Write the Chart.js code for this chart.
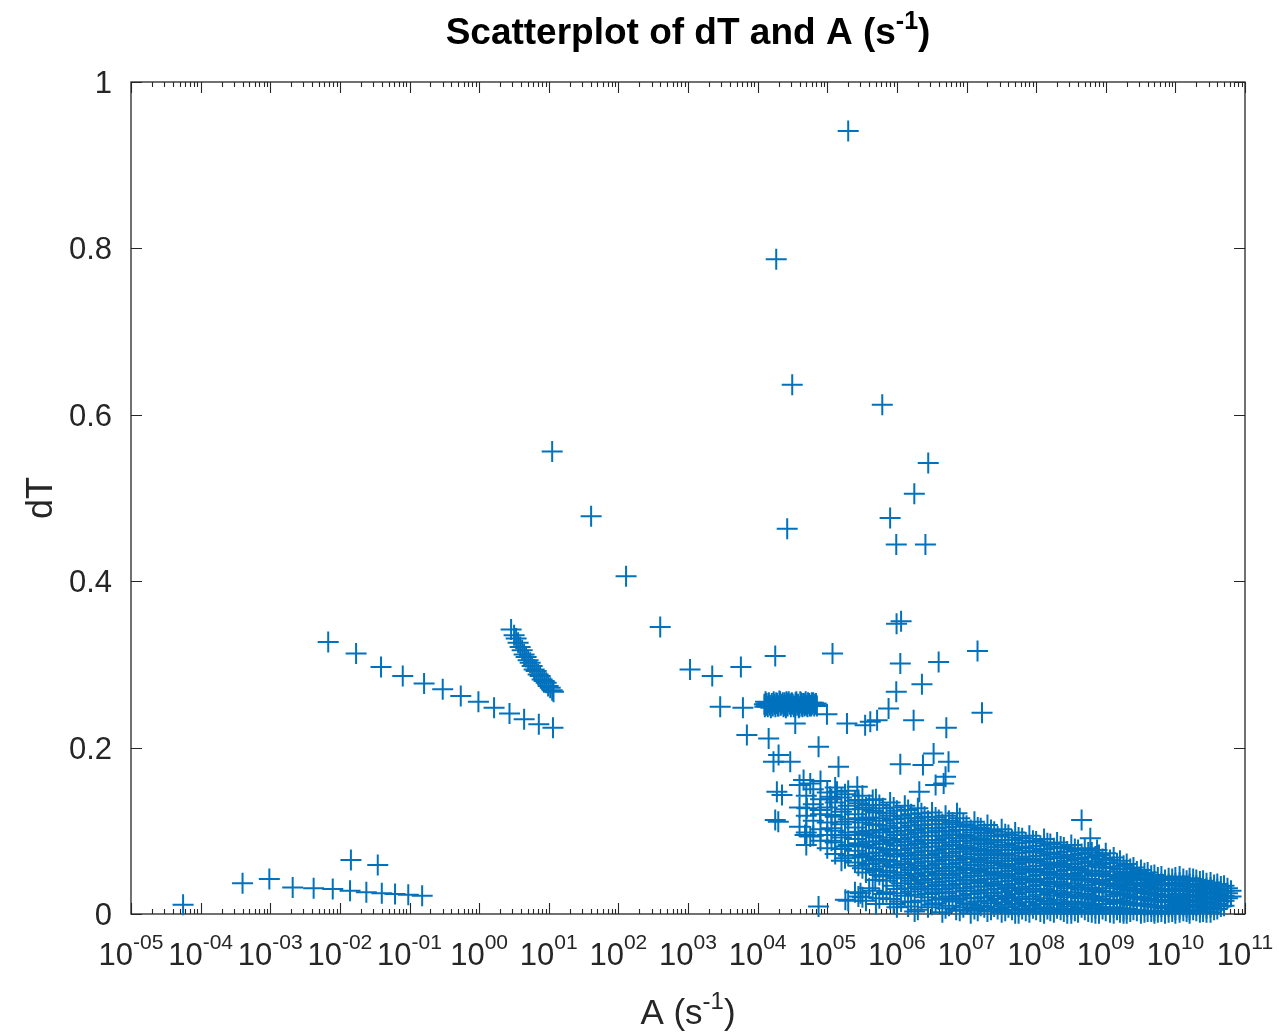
<!DOCTYPE html>
<html>
<head>
<meta charset="utf-8">
<title>Scatterplot of dT and A</title>
<script src="https://cdn.jsdelivr.net/npm/chart.js@4.4.1/dist/chart.umd.min.js"></script>
<style>
  html, body { margin: 0; padding: 0; background: #ffffff; }
  #wrap { width: 1279px; height: 1032px; position: relative; }
</style>
</head>
<body>
<div id="wrap"><canvas id="c"></canvas></div>
<script>
// ---- data: [A (s^-1), dT] ----
const lowTrail = [
  [5.6e-5, 0.011], [4.0e-4, 0.037], [9.7e-4, 0.042], [2.1e-3, 0.032], [4.2e-3, 0.031],
  [7.9e-3, 0.030], [1.4e-2, 0.028], [2.4e-2, 0.026], [4.0e-2, 0.025], [6.2e-2, 0.024],
  [9.6e-2, 0.023], [0.152, 0.022], [1.44e-2, 0.065], [3.5e-2, 0.059]
];

const upperTrail = [
  [6.8e-3, 0.327], [1.71e-2, 0.313], [3.9e-2, 0.297], [8.0e-2, 0.286], [0.162, 0.277],
  [0.30, 0.270], [0.545, 0.262], [0.977, 0.255], [1.64, 0.248], [2.73, 0.241],
  [4.43, 0.234], [7.2, 0.228], [11.5, 0.224]
];

const steepRun = [
  [2.88, 0.342], [3.18, 0.335], [3.40, 0.331], [3.63, 0.326], [3.88, 0.321], [4.15, 0.317],
  [4.43, 0.312], [4.73, 0.309], [5.06, 0.305], [5.41, 0.302], [5.77, 0.298], [6.17, 0.294],
  [6.59, 0.292], [7.04, 0.288], [7.52, 0.286], [8.03, 0.282], [8.59, 0.280], [9.18, 0.278],
  [9.80, 0.274], [10.5, 0.272], [11.2, 0.269], [11.7, 0.267]
];

const midArc = [
  [11.2, 0.556], [40.6, 0.478], [129, 0.406], [399, 0.345], [1070, 0.294], [2230, 0.286]
];

const highOutliers = [
  [2.0e5, 0.941], [1.85e4, 0.787], [3.14e4, 0.636], [6.17e5, 0.612], [2.82e6, 0.542],
  [1.78e6, 0.505], [8.0e5, 0.476], [2.66e4, 0.463], [9.8e5, 0.444], [2.57e6, 0.444],
  [9.9e5, 0.349], [1.15e6, 0.352]
];

const midScatter = [
  [2900, 0.249], [5750, 0.297], [6150, 0.248], [17900, 0.310], [1.19e5, 0.313], [1.12e6, 0.301],
  [3.98e6, 0.303], [1.44e7, 0.316], [9.8e5, 0.267], [2.29e6, 0.276], [1.67e7, 0.242],
  [1.74e6, 0.233], [5.13e6, 0.224], [7.6e5, 0.247], [4.15e5, 0.231], [3.5e5, 0.227],
  [1.92e5, 0.229], [5.2e5, 0.233], [3.47e4, 0.229], [9.9e4, 0.240], [7010, 0.215],
  [14400, 0.211], [7.5e4, 0.201], [2.0e4, 0.191], [1.69e4, 0.183], [2.94e4, 0.183],
  [1.45e5, 0.177], [1.12e6, 0.180], [2.37e6, 0.179], [3.37e6, 0.193], [5.52e6, 0.183],
  [1.89e4, 0.147], [2.24e4, 0.143], [1.98e4, 0.111], [1.79e4, 0.113], [4.57e4, 0.161],
  [5.7e4, 0.157], [5.1e4, 0.127], [5.7e4, 0.093], [4.8e4, 0.095], [7.5e4, 0.009],
  [2.82e5, 0.137], [4.9e5, 0.041], [1.82e5, 0.017], [3.0e5, 0.025], [4.7e6, 0.157],
  [7.3e6, 0.121], [7.9e4, 0.125], [1.1e5, 0.141], [1.38e5, 0.147], [2.7e5, 0.153],
  [4.5e5, 0.137], [2.1e6, 0.147], [3.6e6, 0.155], [5.0e6, 0.165]
];

// tight group of cases sitting at dT ~ 0.25
const plateau = [
  [1.25e4, 0.252], [1.27e4, 0.249], [1.3e4, 0.255], [1.33e4, 0.251], [1.35e4, 0.253],
  [1.4e4, 0.249], [1.45e4, 0.254], [1.5e4, 0.251], [1.55e4, 0.248], [1.6e4, 0.253],
  [1.65e4, 0.250], [1.7e4, 0.255], [1.75e4, 0.252], [1.8e4, 0.249], [1.85e4, 0.254],
  [1.9e4, 0.253], [1.95e4, 0.250], [2.0e4, 0.250], [2.05e4, 0.256], [2.1e4, 0.255],
  [2.15e4, 0.251], [2.2e4, 0.252], [2.3e4, 0.254], [2.35e4, 0.249], [2.4e4, 0.251],
  [2.45e4, 0.254], [2.5e4, 0.251], [2.55e4, 0.248], [2.6e4, 0.255], [2.65e4, 0.253],
  [2.7e4, 0.250], [2.8e4, 0.255], [2.9e4, 0.252], [3.0e4, 0.249], [3.05e4, 0.253],
  [3.1e4, 0.254], [3.2e4, 0.252], [3.3e4, 0.249], [3.4e4, 0.250], [3.5e4, 0.254],
  [3.6e4, 0.255], [3.7e4, 0.251], [3.8e4, 0.252], [3.9e4, 0.248], [4.0e4, 0.249],
  [4.1e4, 0.255], [4.2e4, 0.254], [4.3e4, 0.251], [4.4e4, 0.249], [4.5e4, 0.253],
  [4.6e4, 0.253], [4.7e4, 0.250], [4.8e4, 0.252], [4.9e4, 0.255], [5.0e4, 0.251],
  [5.2e4, 0.249], [5.3e4, 0.254], [5.5e4, 0.253], [5.6e4, 0.250], [5.7e4, 0.251],
  [5.9e4, 0.250], [6.0e4, 0.254], [6.1e4, 0.252], [6.3e4, 0.254], [6.5e4, 0.250],
  [6.7e4, 0.252], [6.9e4, 0.253], [7.1e4, 0.250]
];

// dense band: each entry is an A value and the dT values found at it
const bandColumns = [
  [4.0e4, [0.155, 0.128, 0.105]],
  [5.0e4, [0.142, 0.118, 0.098, 0.083]],
  [6.3e4, [0.150, 0.132, 0.112, 0.094]],
  [8.0e4, [0.160, 0.138, 0.120, 0.102, 0.088]],
  [1.0e5, [0.146, 0.128, 0.110, 0.095, 0.079]],
  [1.3e5, [0.152, 0.134, 0.117, 0.100, 0.086, 0.072]],
  [1.6e5, [0.140, 0.123, 0.108, 0.092, 0.078, 0.064]],
  [2.0e5, [0.148, 0.130, 0.114, 0.098, 0.083, 0.070, 0.016]],
  [2.5e5, [0.136, 0.120, 0.104, 0.090, 0.076, 0.062, 0.026]],
  [3.2e5, [0.142, 0.126, 0.110, 0.095, 0.081, 0.068, 0.055, 0.020]],
  [4.0e5, [0.131, 0.116, 0.100, 0.087, 0.073, 0.060, 0.031]],
  [5.0e5, [0.138, 0.122, 0.107, 0.092, 0.079, 0.066, 0.052, 0.012]],
  [6.3e5, [0.127, 0.112, 0.098, 0.084, 0.070, 0.057, 0.045, 0.024]],
  [8.0e5, [0.134, 0.118, 0.103, 0.089, 0.076, 0.063, 0.050, 0.018]],
  [1.0e6, [0.124, 0.109, 0.095, 0.082, 0.069, 0.056, 0.043, 0.030, 0.008]],
  [1.3e6, [0.130, 0.115, 0.100, 0.087, 0.073, 0.060, 0.047, 0.022]],
  [1.6e6, [0.120, 0.106, 0.092, 0.079, 0.066, 0.053, 0.040, 0.027, 0.014]],
  [2.0e6, [0.127, 0.112, 0.098, 0.084, 0.071, 0.058, 0.045, 0.033, 0.005]],
  [2.5e6, [0.117, 0.103, 0.089, 0.076, 0.063, 0.050, 0.038, 0.020]],
  [3.2e6, [0.122, 0.108, 0.094, 0.081, 0.068, 0.055, 0.042, 0.029, 0.011]],
  [4.0e6, [0.113, 0.100, 0.086, 0.073, 0.060, 0.048, 0.035, 0.017]],
  [5.0e6, [0.118, 0.104, 0.091, 0.078, 0.065, 0.052, 0.039, 0.025, 0.007]],
  [6.3e6, [0.110, 0.096, 0.083, 0.070, 0.057, 0.044, 0.031, 0.015]],
  [8.0e6, [0.115, 0.101, 0.088, 0.075, 0.062, 0.049, 0.036, 0.022, 0.004]],
  [1.0e7, [0.106, 0.093, 0.080, 0.067, 0.054, 0.041, 0.028, 0.013]],
  [1.3e7, [0.111, 0.098, 0.085, 0.072, 0.059, 0.046, 0.033, 0.019, 0.006]],
  [1.6e7, [0.103, 0.090, 0.077, 0.064, 0.051, 0.038, 0.025, 0.010]],
  [2.0e7, [0.107, 0.094, 0.081, 0.068, 0.055, 0.042, 0.029, 0.016, 0.003]],
  [2.5e7, [0.099, 0.086, 0.073, 0.061, 0.048, 0.035, 0.022, 0.009]],
  [3.2e7, [0.102, 0.089, 0.077, 0.064, 0.051, 0.039, 0.026, 0.014, 0.002]],
  [4.0e7, [0.095, 0.082, 0.070, 0.057, 0.045, 0.032, 0.020, 0.008]],
  [5.0e7, [0.098, 0.085, 0.073, 0.060, 0.048, 0.036, 0.024, 0.012, 0.001]],
  [6.3e7, [0.091, 0.079, 0.066, 0.054, 0.042, 0.030, 0.018, 0.006]],
  [8.0e7, [0.094, 0.081, 0.069, 0.057, 0.045, 0.033, 0.021, 0.010, 0.002]],
  [1.0e8, [0.087, 0.075, 0.063, 0.051, 0.039, 0.027, 0.015, 0.005]],
  [1.3e8, [0.090, 0.078, 0.066, 0.054, 0.042, 0.030, 0.019, 0.008, 0.001]],
  [1.6e8, [0.084, 0.072, 0.060, 0.048, 0.037, 0.025, 0.013, 0.004]],
  [2.0e8, [0.086, 0.074, 0.062, 0.051, 0.039, 0.028, 0.017, 0.007]],
  [2.5e8, [0.080, 0.069, 0.057, 0.046, 0.034, 0.023, 0.012, 0.003]],
  [3.2e8, [0.083, 0.071, 0.060, 0.048, 0.037, 0.026, 0.015, 0.006, 0.001]],
  [4.0e8, [0.077, 0.066, 0.054, 0.043, 0.032, 0.021, 0.011, 0.002]],
  [4.5e8, [0.113]],
  [5.0e8, [0.079, 0.068, 0.057, 0.046, 0.035, 0.024, 0.014, 0.005]],
  [6.0e8, [0.091]],
  [6.3e8, [0.074, 0.063, 0.052, 0.041, 0.030, 0.020, 0.010, 0.002]],
  [7.5e8, [0.077]],
  [8.0e8, [0.071, 0.060, 0.049, 0.039, 0.028, 0.018, 0.008, 0.001]],
  [1.0e9, [0.073, 0.062, 0.051, 0.041, 0.031, 0.021, 0.012, 0.004]],
  [1.3e9, [0.068, 0.057, 0.047, 0.037, 0.027, 0.017, 0.008, 0.001]],
  [1.6e9, [0.064, 0.054, 0.044, 0.034, 0.025, 0.016, 0.007, 0.002]],
  [2.0e9, [0.060, 0.050, 0.041, 0.032, 0.023, 0.014, 0.006, 0.001]],
  [2.5e9, [0.056, 0.047, 0.038, 0.030, 0.021, 0.013, 0.005]],
  [3.2e9, [0.053, 0.044, 0.036, 0.028, 0.020, 0.012, 0.004, 0.001]],
  [4.0e9, [0.050, 0.042, 0.034, 0.026, 0.018, 0.011, 0.003]],
  [5.0e9, [0.047, 0.039, 0.031, 0.024, 0.017, 0.010, 0.004, 0.001]],
  [6.3e9, [0.045, 0.037, 0.030, 0.023, 0.016, 0.009, 0.003]],
  [8.0e9, [0.043, 0.036, 0.029, 0.022, 0.015, 0.009, 0.002]],
  [1.0e10, [0.044, 0.037, 0.030, 0.023, 0.017, 0.011, 0.005, 0.001]],
  [1.3e10, [0.042, 0.035, 0.028, 0.022, 0.016, 0.010, 0.004]],
  [1.6e10, [0.043, 0.036, 0.029, 0.023, 0.017, 0.011, 0.005, 0.001]],
  [2.0e10, [0.041, 0.034, 0.028, 0.022, 0.016, 0.010, 0.004]],
  [2.5e10, [0.040, 0.033, 0.027, 0.021, 0.015, 0.009, 0.003]],
  [3.2e10, [0.038, 0.032, 0.026, 0.020, 0.014, 0.008, 0.002]],
  [4.0e10, [0.036, 0.030, 0.024, 0.018, 0.012, 0.006]],
  [5.0e10, [0.034, 0.028, 0.022, 0.016, 0.010]],
  [6.3e10, [0.028, 0.021]]
];

// further cases in the same band, lying between the A values above
const bandColumnsBetween = [
  [1.15e5, [0.138, 0.119, 0.103, 0.088]],
  [1.8e5, [0.144, 0.126, 0.111, 0.095, 0.081, 0.067]],
  [2.8e5, [0.133, 0.115, 0.099, 0.085, 0.071, 0.058, 0.021]],
  [3.6e5, [0.128, 0.113, 0.097, 0.083, 0.069, 0.050, 0.016]],
  [4.5e5, [0.124, 0.108, 0.094, 0.080, 0.064, 0.054, 0.028]],
  [5.6e5, [0.131, 0.115, 0.101, 0.087, 0.074, 0.061, 0.047, 0.019]],
  [7.1e5, [0.121, 0.106, 0.092, 0.078, 0.065, 0.052, 0.040, 0.026]],
  [9.0e5, [0.128, 0.114, 0.099, 0.086, 0.072, 0.059, 0.046, 0.034, 0.012]],
  [1.15e6, [0.118, 0.104, 0.090, 0.077, 0.063, 0.050, 0.037, 0.025, 0.015]],
  [1.45e6, [0.125, 0.110, 0.096, 0.083, 0.070, 0.056, 0.043, 0.031, 0.009]],
  [1.8e6, [0.115, 0.101, 0.087, 0.074, 0.061, 0.048, 0.036, 0.023, 0.003]],
  [2.25e6, [0.121, 0.107, 0.093, 0.080, 0.067, 0.054, 0.041, 0.030, 0.016]],
  [2.8e6, [0.112, 0.098, 0.085, 0.071, 0.058, 0.046, 0.033, 0.024, 0.008]],
  [3.6e6, [0.116, 0.103, 0.089, 0.076, 0.063, 0.051, 0.038, 0.026, 0.013]],
  [4.5e6, [0.108, 0.094, 0.081, 0.068, 0.055, 0.043, 0.030, 0.019, 0.002]],
  [5.6e6, [0.112, 0.099, 0.086, 0.073, 0.060, 0.047, 0.034, 0.021, 0.010]],
  [7.1e6, [0.105, 0.091, 0.078, 0.065, 0.052, 0.040, 0.027, 0.017, 0.005]],
  [9.0e6, [0.108, 0.095, 0.082, 0.069, 0.056, 0.044, 0.031, 0.019, 0.008]],
  [1.15e7, [0.101, 0.088, 0.075, 0.062, 0.049, 0.037, 0.024, 0.011, 0.001]],
  [1.45e7, [0.104, 0.091, 0.078, 0.066, 0.053, 0.040, 0.028, 0.015, 0.004]],
  [1.8e7, [0.097, 0.084, 0.071, 0.058, 0.046, 0.033, 0.020, 0.008]],
  [2.25e7, [0.101, 0.088, 0.075, 0.062, 0.050, 0.037, 0.025, 0.013, 0.005]],
  [2.8e7, [0.093, 0.080, 0.067, 0.055, 0.043, 0.030, 0.018, 0.006]],
  [3.6e7, [0.096, 0.083, 0.071, 0.059, 0.046, 0.034, 0.022, 0.011, 0.004]],
  [4.5e7, [0.089, 0.077, 0.064, 0.052, 0.040, 0.028, 0.016, 0.005]],
  [5.6e7, [0.092, 0.080, 0.067, 0.055, 0.043, 0.031, 0.019, 0.009, 0.001]],
  [7.1e7, [0.086, 0.074, 0.062, 0.050, 0.038, 0.026, 0.014, 0.004]],
  [9.0e7, [0.088, 0.076, 0.064, 0.052, 0.041, 0.029, 0.018, 0.007]],
  [1.15e8, [0.082, 0.070, 0.058, 0.047, 0.035, 0.023, 0.012, 0.003]],
  [1.45e8, [0.085, 0.073, 0.061, 0.050, 0.038, 0.027, 0.016, 0.006]],
  [1.8e8, [0.079, 0.067, 0.056, 0.044, 0.033, 0.022, 0.011, 0.002]],
  [2.25e8, [0.081, 0.069, 0.058, 0.047, 0.036, 0.025, 0.014, 0.005]],
  [2.8e8, [0.075, 0.064, 0.053, 0.042, 0.031, 0.020, 0.009, 0.001]],
  [3.6e8, [0.078, 0.067, 0.056, 0.045, 0.034, 0.023, 0.013, 0.004]],
  [4.5e8, [0.072, 0.061, 0.050, 0.040, 0.029, 0.019, 0.008]],
  [5.6e8, [0.074, 0.063, 0.052, 0.042, 0.032, 0.022, 0.012, 0.003]],
  [7.1e8, [0.069, 0.058, 0.048, 0.038, 0.027, 0.017, 0.007, 0.001]],
  [9.0e8, [0.066, 0.056, 0.046, 0.036, 0.026, 0.016, 0.006]],
  [1.15e9, [0.065, 0.055, 0.045, 0.035, 0.026, 0.016, 0.007, 0.002]],
  [1.45e9, [0.061, 0.051, 0.042, 0.033, 0.023, 0.014, 0.005]],
  [1.8e9, [0.058, 0.049, 0.039, 0.030, 0.022, 0.013, 0.004, 0.001]],
  [2.25e9, [0.054, 0.045, 0.036, 0.028, 0.019, 0.011, 0.003]],
  [2.8e9, [0.051, 0.043, 0.035, 0.027, 0.019, 0.011, 0.004]],
  [3.6e9, [0.049, 0.041, 0.033, 0.025, 0.017, 0.010, 0.002]],
  [4.5e9, [0.046, 0.038, 0.031, 0.024, 0.016, 0.009, 0.003]],
  [5.6e9, [0.044, 0.036, 0.029, 0.022, 0.015, 0.008, 0.002]],
  [7.1e9, [0.041, 0.034, 0.027, 0.020, 0.014, 0.007, 0.001]],
  [9.0e9, [0.042, 0.035, 0.028, 0.021, 0.015, 0.008, 0.003]],
  [1.15e10, [0.045, 0.038, 0.031, 0.024, 0.018, 0.012, 0.006, 0.002]],
  [1.45e10, [0.040, 0.033, 0.027, 0.020, 0.014, 0.008, 0.003]],
  [1.8e10, [0.042, 0.035, 0.029, 0.023, 0.017, 0.011, 0.005]],
  [2.25e10, [0.039, 0.032, 0.026, 0.020, 0.014, 0.008, 0.002]],
  [2.8e10, [0.037, 0.031, 0.025, 0.019, 0.013, 0.007, 0.002]],
  [3.6e10, [0.035, 0.029, 0.023, 0.017, 0.011, 0.005]],
  [4.5e10, [0.033, 0.027, 0.021, 0.015, 0.009]],
  [5.6e10, [0.031, 0.025, 0.019]]
];

// ---- axis ticks and labels ----
const xTickExponents = ['-05', '-04', '-03', '-02', '-01', '00', '01', '02', '03',
                        '04', '05', '06', '07', '08', '09', '10', '11'];
const yTickValues = [0, 0.2, 0.4, 0.6, 0.8, 1];
const yTickLabels = ['0', '0.2', '0.4', '0.6', '0.8', '1'];

const titleText = 'Scatterplot of dT and A (s';
const xLabelText = 'A (s';
const yLabelText = 'dT';
const inverseSup = '-1';

// ---- assemble points ----
const pairsToPoints = pairs => pairs.map(([a, d]) => ({ x: a, y: d }));
const columnsToPoints = cols => cols.flatMap(([a, list]) => list.map(d => ({ x: a, y: d })));
const allPoints = [
  ...pairsToPoints(lowTrail),
  ...pairsToPoints(upperTrail),
  ...pairsToPoints(steepRun),
  ...pairsToPoints(midArc),
  ...pairsToPoints(highOutliers),
  ...pairsToPoints(midScatter),
  ...pairsToPoints(plateau),
  ...columnsToPoints(bandColumns),
  ...columnsToPoints(bandColumnsBetween)
];

const FONT = '"Liberation Sans", Arial, Helvetica, sans-serif';
const AXIS_COLOR = '#262626';

function textWidth(ctx, font, s) {
  ctx.font = font;
  return ctx.measureText(s).width;
}

// base text followed by a raised, smaller exponent; returns the x where it ends
function drawWithSup(ctx, base, sup, x0, baseline, baseFont, supFont, rise) {
  ctx.textAlign = 'left';
  ctx.textBaseline = 'alphabetic';
  ctx.font = baseFont;
  const wb = ctx.measureText(base).width;
  ctx.fillText(base, x0, baseline);
  ctx.font = supFont;
  const ws = ctx.measureText(sup).width;
  ctx.fillText(sup, x0 + wb, baseline - rise);
  return x0 + wb + ws;
}

// box, inward ticks and all axis text
const axesDecor = {
  id: 'axesDecor',
  beforeDatasetsDraw(chart) {
    const { ctx, chartArea: a, scales } = chart;
    const xs = scales.x, ys = scales.y;
    ctx.save();
    ctx.strokeStyle = AXIS_COLOR;
    ctx.lineWidth = 1.3;
    ctx.strokeRect(a.left, a.top, a.right - a.left, a.bottom - a.top);

    ctx.lineWidth = 1.1;
    ctx.beginPath();
    // x ticks: decades long, intermediate values short, on bottom and top edges
    for (let i = 0; i < xTickExponents.length; i++) {
      const dec = Number('1e' + xTickExponents[i]);
      const px = Math.round(xs.getPixelForValue(dec)) + 0.5;
      ctx.moveTo(px, a.bottom); ctx.lineTo(px, a.bottom - 11);
      ctx.moveTo(px, a.top); ctx.lineTo(px, a.top + 11);
      if (i < xTickExponents.length - 1) {
        for (let m = 2; m <= 9; m++) {
          const mp = Math.round(xs.getPixelForValue(m * dec)) + 0.5;
          ctx.moveTo(mp, a.bottom); ctx.lineTo(mp, a.bottom - 5);
          ctx.moveTo(mp, a.top); ctx.lineTo(mp, a.top + 5);
        }
      }
    }
    // y ticks on left and right edges
    yTickValues.forEach(v => {
      const py = Math.round(ys.getPixelForValue(v)) + 0.5;
      ctx.moveTo(a.left, py); ctx.lineTo(a.left + 11, py);
      ctx.moveTo(a.right, py); ctx.lineTo(a.right - 11, py);
    });
    ctx.stroke();

    // x tick labels: 10 with a two-digit exponent
    ctx.fillStyle = AXIS_COLOR;
    const tickFont = '31px ' + FONT;
    const tickSupFont = '21px ' + FONT;
    xTickExponents.forEach(e => {
      const px = xs.getPixelForValue(Number('1e' + e));
      const w = textWidth(ctx, tickFont, '10') + textWidth(ctx, tickSupFont, e);
      drawWithSup(ctx, '10', e, px - w / 2, 965, tickFont, tickSupFont, 16);
    });
    // y tick labels
    ctx.font = tickFont;
    ctx.textAlign = 'right';
    ctx.textBaseline = 'alphabetic';
    yTickValues.forEach((v, i) => {
      const py = ys.getPixelForValue(v);
      ctx.fillText(yTickLabels[i], a.left - 19, py + 11);
    });

    // x axis title
    const cx = (a.left + a.right) / 2;
    const labFont = '35px ' + FONT;
    const labSupFont = '24px ' + FONT;
    const lw = textWidth(ctx, labFont, xLabelText) + textWidth(ctx, labSupFont, inverseSup) +
               textWidth(ctx, labFont, ')');
    let endX = drawWithSup(ctx, xLabelText, inverseSup, cx - lw / 2, 1024, labFont, labSupFont, 15);
    ctx.font = labFont;
    ctx.fillText(')', endX, 1024);

    // y axis title
    ctx.save();
    ctx.translate(52, (a.top + a.bottom) / 2);
    ctx.rotate(-Math.PI / 2);
    ctx.font = '36px ' + FONT;
    ctx.textAlign = 'center';
    ctx.fillText(yLabelText, 0, 0);
    ctx.restore();

    // chart title
    ctx.fillStyle = '#000000';
    const tFont = 'bold 37px ' + FONT;
    const tSupFont = 'bold 25px ' + FONT;
    const tw = textWidth(ctx, tFont, titleText) + textWidth(ctx, tSupFont, inverseSup) +
               textWidth(ctx, tFont, ')');
    endX = drawWithSup(ctx, titleText, inverseSup, cx - tw / 2, 44, tFont, tSupFont, 15);
    ctx.font = tFont;
    ctx.fillText(')', endX, 44);
    ctx.restore();
  }
};

new Chart(document.getElementById('c'), {
  type: 'scatter',
  data: {
    datasets: [{
      label: 'dT vs A',
      data: allPoints,
      pointStyle: 'cross',
      pointRadius: 10.5,
      pointHoverRadius: 10.5,
      borderColor: '#0072BD',
      backgroundColor: '#0072BD',
      borderWidth: 2,
      clip: false
    }]
  },
  options: {
    responsive: true,
    maintainAspectRatio: false,
    animation: false,
    events: [],
    layout: { padding: { left: 131, right: 34, top: 82, bottom: 118 } },
    plugins: { legend: { display: false }, tooltip: { enabled: false }, title: { display: false } },
    scales: {
      x: { type: 'logarithmic', min: 1e-5, max: 1e11, display: false },
      y: { type: 'linear', min: 0, max: 1, display: false }
    }
  },
  plugins: [axesDecor]
});
</script>
</body>
</html>
